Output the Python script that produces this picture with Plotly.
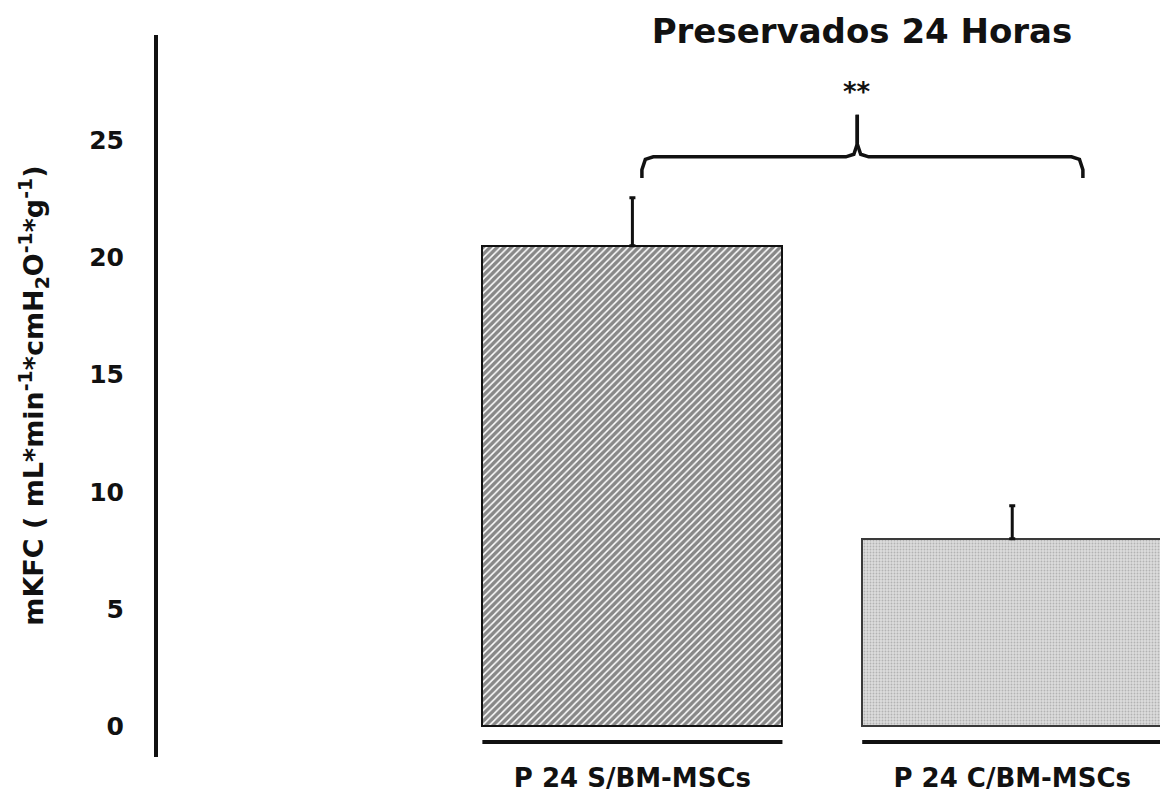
import plotly.graph_objects as go

# ---- data ----
categories = ["P 24 S/BM-MSCs", "P 24 C/BM-MSCs"]
x_pos = [0, 1]
values = [20.5, 8.0]
err_plus = [2.05, 1.4]
y_ticks = [0, 5, 10, 15, 20, 25]
title_text = "Preservados 24 Horas"
y_title = "mKFC ( mL*min<sup>-1</sup>*cmH<sub>2</sub>O<sup>-1</sup>*g<sup>-1</sup>)"
signif_text = "**"
bar_width = 0.79

# bracket (data coordinates)
br_left, br_mid, br_right = 0.025, 0.592, 1.186
br_end_y, br_line_y, br_peak_y = 23.4, 24.3, 26.1
signif_y = 27.05
baseline_y = -0.68

FONT_B = "DejaVu Sans"

fig = go.Figure()

# bar 1: diagonal hatch
fig.add_trace(go.Bar(
    x=[x_pos[0]], y=[values[0]], width=bar_width,
    marker=dict(color="white",
                line=dict(color="#111", width=2),
                pattern=dict(shape="/", fgcolor="#111", bgcolor="white",
                             size=5, solidity=0.7)),
    error_y=dict(type="data", symmetric=False, array=[err_plus[0]],
                 arrayminus=[0], color="#111", thickness=3, width=3),
    showlegend=False, hoverinfo="skip"))

# bar 2: light stippled grey
fig.add_trace(go.Bar(
    x=[x_pos[1]], y=[values[1]], width=bar_width,
    marker=dict(color="#dadada",
                line=dict(color="#3a3a3a", width=2),
                pattern=dict(shape=".", fgcolor="#8a8a8a", bgcolor="#dcdcdc",
                             size=3, solidity=0.3)),
    error_y=dict(type="data", symmetric=False, array=[err_plus[1]],
                 arrayminus=[0], color="#111", thickness=3, width=3),
    showlegend=False, hoverinfo="skip"))

# baseline segments under each bar
bx, by = [], []
for xp in x_pos:
    bx += [xp - bar_width / 2, xp + bar_width / 2, None]
    by += [baseline_y, baseline_y, None]
fig.add_trace(go.Scatter(x=bx, y=by, mode="lines",
                         line=dict(color="#111", width=4),
                         showlegend=False, hoverinfo="skip", cliponaxis=False))

# bracket
dx = 0.03
dy = 0.55
left_half_x = [br_left, br_left, br_left + dx * 0.3, br_left + dx,
               br_mid - dx, br_mid - dx * 0.3, br_mid, br_mid]
half_y = [br_end_y, br_line_y - dy, br_line_y - dy * 0.2, br_line_y,
          br_line_y, br_line_y + dy * 0.2, br_line_y + dy, br_peak_y]
right_half_x = [br_right, br_right, br_right - dx * 0.3, br_right - dx,
                br_mid + dx, br_mid + dx * 0.3, br_mid, br_mid]
for hx in (left_half_x, right_half_x):
    fig.add_trace(go.Scatter(x=hx, y=half_y, mode="lines",
                             line=dict(color="#111", width=3.5),
                             showlegend=False, hoverinfo="skip"))

fig.add_annotation(x=br_mid, y=signif_y, xref="x", yref="y",
                   text=signif_text, showarrow=False,
                   font=dict(family=FONT_B, size=26, color="#111", weight="bold"))

# y-axis title
fig.add_annotation(x=-0.125, y=0.5, xref="paper", yref="paper",
                   text=y_title, textangle=-90, showarrow=False,
                   xanchor="center", yanchor="middle",
                   font=dict(family=FONT_B, size=27, color="#111", weight="bold"))

fig.update_layout(
    width=1160, height=795,
    margin=dict(l=158, r=0, t=35, b=38, autoexpand=False),
    paper_bgcolor="white", plot_bgcolor="white",
    title=dict(text=title_text, x=0.7026, xref="paper", xanchor="center",
               y=0.961, yref="container", yanchor="middle",
               font=dict(family=FONT_B, size=34, color="#111", weight="bold")),
    xaxis=dict(range=[-1.249, 1.389], tickvals=x_pos, ticktext=categories,
               showgrid=False, zeroline=False, showline=False, ticks="",
               tickfont=dict(family=FONT_B, size=26, color="#111", weight="bold"),
               ticklabelstandoff=3, automargin=False),
    yaxis=dict(range=[-1.32, 29.5], tickvals=y_ticks,
               showgrid=False, zeroline=False, showline=True,
               linecolor="#111", linewidth=4, ticks="",
               tickfont=dict(family=FONT_B, size=25, color="#111", weight="bold"),
               ticklabelstandoff=25, automargin=False),
    bargap=0,
)

fig.write_html("out.html",
               config={"displayModeBar": False},
               post_script="document.body.style.margin='0';"
                           "document.body.style.overflow='hidden';")
